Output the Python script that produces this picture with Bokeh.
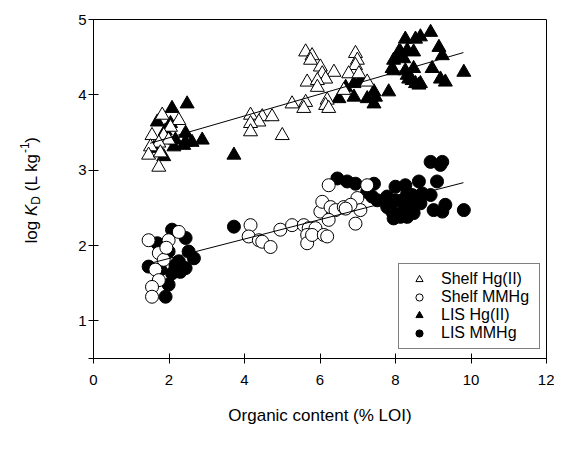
import math
from bokeh.plotting import figure
from bokeh.layouts import row
from bokeh.models import (Range1d, FixedTicker, Legend, LegendItem, Label)
from bokeh.embed import file_html
from bokeh.resources import INLINE

# ---- data ----
shelf_hg_x = [1.82, 2.26, 2.04, 1.55, 1.86, 1.99, 1.73, 1.51, 1.46, 1.77, 1.73,
              5.62, 5.79, 5.75, 6.01, 6.37, 6.06, 6.15, 5.66, 5.93, 5.93, 6.94, 6.99,
              6.94, 6.76, 7.03, 7.25, 6.63, 5.26, 5.62, 5.57, 6.19, 6.15, 6.23, 4.16,
              4.47, 4.73, 4.38, 4.16, 4.16, 5.00]
shelf_hg_y = [3.73, 3.66, 3.57, 3.46, 3.46, 3.40, 3.36, 3.31, 3.20, 3.23, 3.04,
              4.57, 4.52, 4.46, 4.37, 4.30, 4.28, 4.21, 4.17, 4.19, 4.10, 4.55, 4.46,
              4.39, 4.28, 4.28, 4.17, 4.06, 3.88, 3.90, 3.82, 3.93, 3.86, 3.82, 3.73,
              3.71, 3.71, 3.64, 3.62, 3.51, 3.46]

lis_hg_x = [2.48, 2.08, 1.69, 2.04, 2.44, 2.44, 2.61, 2.88, 2.13, 1.60, 1.86, 2.39,
            1.90, 2.17, 3.72,
            6.50, 6.90, 6.68, 6.90, 7.07, 7.25, 7.43, 7.43, 7.47, 7.82, 7.95, 7.91,
            8.09, 8.26, 8.53, 8.66, 8.93, 8.31, 8.48, 8.22, 8.26, 8.48, 8.31, 8.44,
            8.62, 9.15, 9.24, 8.97, 9.19, 9.32, 9.81, 7.95, 8.04, 8.13, 8.35, 8.53,
            8.66]
lis_hg_y = [3.88, 3.82, 3.64, 3.62, 3.49, 3.37, 3.37, 3.40, 3.31, 3.29, 3.18, 3.33,
            3.52, 3.40, 3.20,
            3.95, 3.97, 4.10, 4.15, 4.19, 3.95, 4.04, 3.88, 3.97, 4.04, 4.46, 4.35,
            4.57, 4.74, 4.74, 4.77, 4.83, 4.59, 4.57, 4.48, 4.32, 4.35, 4.26, 4.19,
            4.13, 4.63, 4.52, 4.35, 4.21, 4.17, 4.30, 4.32, 4.50, 4.57, 4.21, 4.15,
            4.15]

shelf_mm_x = [1.46, 1.99, 2.26, 1.73, 1.86, 1.64, 1.73, 1.55, 1.55, 1.93,
              4.16, 4.11, 4.38, 4.47, 4.69, 4.95, 5.26, 5.57, 5.70, 5.88, 5.66, 5.66,
              5.79, 6.10, 6.19, 6.01, 6.23, 6.06, 6.28, 6.41, 6.63, 6.23, 6.94, 6.99,
              7.07, 7.25, 6.81, 6.68]
shelf_mm_y = [2.07, 2.07, 2.18, 1.90, 1.81, 1.68, 1.54, 1.45, 1.32, 1.97,
              2.27, 2.12, 2.07, 2.05, 1.98, 2.21, 2.27, 2.27, 2.23, 2.23, 2.14, 2.03,
              2.14, 2.14, 2.12, 2.45, 2.80, 2.58, 2.51, 2.47, 2.51, 2.34, 2.29, 2.63,
              2.47, 2.80, 2.54, 2.49]

lis_mm_x = [2.08, 2.44, 1.69, 1.99, 2.52, 2.66, 2.26, 2.44, 1.46, 2.08, 1.99, 1.91,
            2.30, 2.17, 3.72, 1.77,
            6.46, 6.72, 6.94, 7.43, 7.25, 7.38, 7.52, 7.78, 8.00, 8.26, 8.62, 9.10,
            8.93, 9.24, 9.19, 7.78, 7.91, 7.95, 8.18, 8.31, 8.48, 8.53, 8.71, 8.93,
            9.01, 9.24, 9.32, 9.81, 8.13, 8.31, 8.44, 8.00, 8.31, 8.66, 8.22]
lis_mm_y = [2.21, 2.10, 2.03, 1.92, 1.92, 1.83, 1.79, 1.70, 1.72, 1.63, 1.48, 1.32,
            1.65, 1.74, 2.25, 1.68,
            2.89, 2.85, 2.82, 2.82, 2.71, 2.65, 2.60, 2.65, 2.78, 2.80, 2.85, 2.85,
            3.11, 3.11, 3.07, 2.51, 2.45, 2.36, 2.60, 2.51, 2.43, 2.54, 2.69, 2.67,
            2.47, 2.45, 2.54, 2.47, 2.38, 2.38, 2.67, 2.60, 2.69, 2.56, 2.47]

# regression lines (slope, intercept, x extent)
hg_fit = dict(slope=0.145, intercept=3.14, x=[1.5, 9.8])
mm_fit = dict(slope=0.129, intercept=1.57, x=[1.5, 9.8])

x_ticks = [0, 2, 4, 6, 8, 10, 12]
y_ticks = [0.5, 1, 2, 3, 4, 5]

FONT = "Liberation Sans"
LEFT_W = 45

p = figure(width=554 - LEFT_W, height=438, output_backend="svg",
           toolbar_location=None,
           x_range=Range1d(0, 12), y_range=Range1d(0.5, 5),
           min_border_left=93 - LEFT_W, min_border_right=8, min_border_top=19,
           min_border_bottom=80)
p.background_fill_color = "white"
p.border_fill_color = "white"
p.outline_line_color = "black"
p.outline_line_width = 1
p.xgrid.visible = False
p.ygrid.visible = False

for ax in (p.xaxis[0], p.yaxis[0]):
    ax.axis_line_color = "black"
    ax.major_tick_line_color = "black"
    ax.minor_tick_line_color = None
    ax.major_tick_in = 5
    ax.major_tick_out = 5
    ax.major_label_text_font = FONT
    ax.major_label_text_font_size = "15px"
    ax.major_label_text_color = "black"

p.xaxis.ticker = FixedTicker(ticks=x_ticks)
p.yaxis.ticker = FixedTicker(ticks=y_ticks)
p.yaxis.major_label_overrides = {0.5: ""}
p.xaxis.major_label_standoff = 11
p.yaxis.major_label_standoff = 2
p.xaxis.axis_label = "Organic content (% LOI)"
p.xaxis.axis_label_text_font = FONT
p.xaxis.axis_label_text_font_size = "17px"
p.xaxis.axis_label_text_font_style = "normal"
p.xaxis.axis_label_text_color = "black"
p.xaxis.axis_label_standoff = 18

# markers
r_lis_hg = p.scatter(lis_hg_x, lis_hg_y, marker="triangle", size=14,
                     fill_color="black", line_color="black")
r_lis_mm = p.scatter(lis_mm_x, lis_mm_y, marker="circle", size=13,
                     fill_color="black", line_color="black")
r_shelf_hg = p.scatter(shelf_hg_x, shelf_hg_y, marker="triangle", size=14,
                       fill_color="white", line_color="black", line_width=1)
r_shelf_mm = p.scatter(shelf_mm_x, shelf_mm_y, marker="circle", size=13,
                       fill_color="white", line_color="black", line_width=1)

for fit in (hg_fit, mm_fit):
    xs = fit["x"]
    ys = [fit["slope"] * v + fit["intercept"] for v in xs]
    p.line(xs, ys, line_color="black", line_width=1)

legend = Legend(items=[
    LegendItem(label="Shelf Hg(II)", renderers=[r_shelf_hg]),
    LegendItem(label="Shelf MMHg", renderers=[r_shelf_mm]),
    LegendItem(label="LIS Hg(II)", renderers=[r_lis_hg]),
    LegendItem(label="LIS MMHg", renderers=[r_lis_mm]),
], location=(305, 9))
legend.border_line_color = "black"
legend.border_line_width = 1
legend.background_fill_color = "white"
legend.background_fill_alpha = 1
legend.padding = 6
legend.margin = 0
legend.spacing = 0
legend.glyph_width = 28
legend.glyph_height = 18
legend.label_height = 18
legend.label_width = 92
legend.label_standoff = 8
legend.label_text_font = FONT
legend.label_text_font_size = "16px"
legend.label_text_color = "black"
p.add_layout(legend)

# narrow companion figure holding the y-axis title: log K_D (L kg^-1)
ylab = figure(width=LEFT_W, height=438, output_backend="svg",
              toolbar_location=None, min_border=0,
              x_range=Range1d(0, 1), y_range=Range1d(0, 1))
ylab.axis.visible = False
ylab.grid.visible = False
ylab.outline_line_color = None
ylab.background_fill_color = "white"
ylab.border_fill_color = "white"

bx, by = 31, 243
# (text, size, style, baseline shift, advance)
pieces = [
    ("log", "17px", "normal", 0, 27.4),
    ("K", "17px", "italic", 0, 11.3),
    ("D", "12px", "normal", 4, 13.6),
    ("(L kg", "17px", "normal", 0, 38.3),
    ("-1", "12px", "normal", -7, 10.2),
    (")", "17px", "normal", 0, 5.7),
]
cur = by
for txt, fs, style, dx, w in pieces:
    ylab.add_layout(Label(x=bx + dx, y=cur, x_units="canvas", y_units="canvas",
                          text=txt, angle=math.pi / 2, text_align="left",
                          text_baseline="alphabetic", text_font=FONT,
                          text_font_size=fs, text_font_style=style,
                          text_color="black"))
    cur -= w

layout = row(ylab, p, spacing=0)
open("out.html", "w").write(file_html(layout, INLINE))
